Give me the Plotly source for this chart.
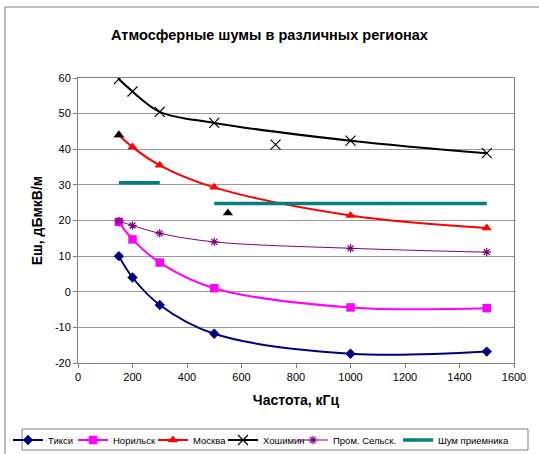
import plotly.graph_objects as go

# Frequencies, kHz
freq = [150, 200, 300, 500, 1000, 1500]

# Noise field strength, dBµV/m
tiksi = [10, 4, -3.7, -11.8, -17.4, -16.8]
norilsk = [19.6, 14.7, 8.2, 1.0, -4.4, -4.6]
moskva = [44, 40.6, 35.5, 29.3, 21.4, 17.9]
hoshimin = [59.7, 56.2, 50.5, 47.4, 42.4, 38.9]
prom_selsk = [19.8, 18.6, 16.4, 14.0, 12.2, 11.1]

# Receiver noise levels (two frequency bands)
rx_freq = [150, 300, None, 500, 1500]
rx_noise = [30.6, 30.6, None, 24.8, 24.8]

# Separate measured points
tri_freq = [150, 550]
tri_val = [44, 22.1]
x_freq = [725]
x_val = [41.3]

# Axis ticks
x_ticks = list(range(0, 1601, 200))
y_ticks = list(range(-20, 61, 10))
y_ticktext = [str(v) for v in y_ticks]

FONT = "Liberation Sans, Arial, sans-serif"
W, H = 539, 454
ML, MR, MT, MB = 78, 25, 78, 91
PW, PH = W - ML - MR, H - MT - MB

def px_x(p):
    """figure pixel column -> paper x"""
    return (p - ML) / PW

def px_y(q):
    """figure pixel row -> paper y"""
    return (H - MB - q) / PH

# left edge (px) of each legend entry's text; entries sit in one framed row
legend_text_px = [52, 117, 197, 267, 337, 442]
legend_row_px = 440
legend_ids = ["legend"] + [f"legend{i}" for i in range(2, 7)]

fig = go.Figure()

def smooth(idx, name, y, color, width, symbol, size, mline=None):
    marker = dict(symbol=symbol, size=size, color=color)
    if mline is not None:
        marker["line"] = dict(color=color, width=mline)
    fig.add_trace(go.Scatter(
        x=freq, y=y, name=name, mode="lines+markers", legend=legend_ids[idx],
        line=dict(color=color, width=width, shape="spline", smoothing=1.0),
        marker=marker))

smooth(0, "Тикси", tiksi, "#000080", 2, "diamond", 8)
smooth(1, "Норильск", norilsk, "#FF00FF", 2, "square", 8.5)
smooth(2, "Москва", moskva, "#FF0000", 2, "triangle-up", 9)
smooth(3, "Хошимин", hoshimin, "#000000", 2, "x-thin-open", 10, mline=1.2)
smooth(4, "Пром. Сельск.", prom_selsk, "#800080", 1, "asterisk-open", 7, mline=1.2)

fig.add_trace(go.Scatter(
    x=rx_freq, y=rx_noise, name="Шум приемника", mode="lines", legend=legend_ids[5],
    line=dict(color="#008080", width=3.5), connectgaps=False))

fig.add_trace(go.Scatter(
    x=tri_freq, y=tri_val, mode="markers", showlegend=False,
    marker=dict(symbol="triangle-up", size=9, color="#000000")))
fig.add_trace(go.Scatter(
    x=x_freq, y=x_val, mode="markers", showlegend=False,
    marker=dict(symbol="x-thin-open", size=10, color="#000000",
                line=dict(color="#000000", width=1.2))))

# Outer chart frame
fig.add_shape(type="rect", xref="paper", yref="paper",
              x0=px_x(5), x1=px_x(548), y0=px_y(463), y1=px_y(7),
              line=dict(color="#808080", width=1), fillcolor="rgba(0,0,0,0)",
              layer="below")
# Legend frame
fig.add_shape(type="rect", xref="paper", yref="paper",
              x0=px_x(22), x1=px_x(528), y0=px_y(450), y1=px_y(429),
              line=dict(color="#808080", width=1), fillcolor="white",
              layer="below")

legends = {}
for lid, tx in zip(legend_ids, legend_text_px):
    legends[lid] = dict(
        orientation="h", xref="container", yref="container",
        x=(tx - 44) / W, y=1 - legend_row_px / H,
        xanchor="left", yanchor="middle",
        borderwidth=0, bgcolor="rgba(0,0,0,0)",
        font=dict(family=FONT, size=9.5), itemwidth=30)

fig.update_layout(
    width=W, height=H,
    margin=dict(l=ML, r=MR, t=MT, b=MB),
    paper_bgcolor="white", plot_bgcolor="white",
    font=dict(family=FONT, size=11, color="#000000"),
    title=dict(text="<b>Атмосферные шумы в различных регионах</b>",
               x=0.5, xref="container", xanchor="center",
               y=1 - 35 / H, yref="container", yanchor="middle",
               font=dict(family=FONT, size=14.5)),
    xaxis=dict(range=[0, 1600], tickvals=x_ticks,
               showgrid=False, zeroline=False,
               showline=True, linecolor="#808080", linewidth=1, mirror=True,
               ticks="outside", ticklen=4, tickcolor="#808080",
               tickfont=dict(size=11),
               title=dict(text="<b>Частота, кГц</b>", font=dict(size=14), standoff=12)),
    yaxis=dict(range=[-20, 60], tickvals=y_ticks, ticktext=y_ticktext,
               showgrid=True, gridcolor="#999999", gridwidth=1,
               zeroline=False,
               showline=True, linecolor="#808080", linewidth=1, mirror=True,
               ticks="outside", ticklen=4, tickcolor="#808080",
               tickfont=dict(size=11),
               title=dict(text="<b>Еш, дБмкВ/м</b>", font=dict(size=14), standoff=8)),
    showlegend=True,
    **legends,
)

fig.write_html("out.html")
